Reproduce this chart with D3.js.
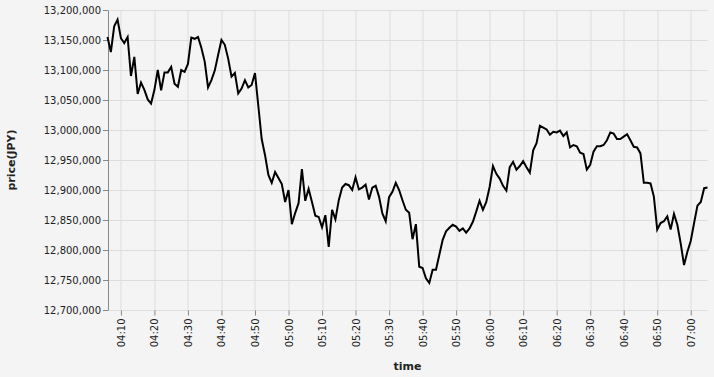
<!DOCTYPE html>
<html>
<head>
<meta charset="utf-8">
<script src="https://cdn.jsdelivr.net/npm/d3@7"></script>
<style>
  body { margin: 0; background: #f4f4f4; }
  svg { display: block; font-family: "DejaVu Sans", sans-serif; }
</style>
</head>
<body>
<svg id="chart"></svg>
<script>
// one price per minute, starting at 04:06
var startTime = "04:06";
var prices = [
  13155, 13130, 13173, 13184, 13153, 13145, 13155, 13090, 13122, 13060,
  13079, 13067, 13051, 13044, 13067, 13100, 13066, 13096, 13096, 13105,
  13077, 13072, 13100, 13097, 13110, 13154, 13152, 13155, 13137, 13114,
  13071, 13083, 13099, 13125, 13150, 13142, 13119, 13089, 13095, 13061,
  13069, 13083, 13071, 13075, 13095, 13040, 12985, 12958, 12925, 12912,
  12930, 12920, 12910, 12880, 12900, 12843, 12862, 12878, 12935, 12882,
  12902, 12880, 12857, 12855, 12838, 12858, 12805, 12867, 12851, 12883,
  12904, 12910, 12908, 12900, 12921, 12901, 12904, 12909, 12884, 12904,
  12907, 12889, 12861, 12848, 12888, 12897, 12912, 12900, 12883, 12867,
  12862, 12818, 12843, 12772, 12770, 12753, 12745, 12767, 12767, 12792,
  12817, 12831, 12837, 12842, 12839, 12832, 12836, 12829, 12836, 12847,
  12864, 12882, 12867, 12880, 12905, 12940, 12927, 12919, 12907, 12899,
  12938, 12947, 12934, 12940, 12948, 12938, 12929, 12966, 12978, 13007,
  13004, 13001, 12992, 12997, 12996, 12999, 12990, 12996, 12971, 12975,
  12973, 12962, 12960, 12934, 12942, 12964, 12973, 12973, 12975, 12983,
  12996, 12994, 12985, 12985, 12989, 12993, 12983, 12972, 12971, 12961,
  12912, 12912, 12911, 12889, 12834, 12845, 12848, 12856, 12834, 12860,
  12842, 12811, 12775, 12797, 12815, 12845, 12874, 12880, 12903, 12904
];
var yDomain = [12700000, 13200000];

var parseTime = d3.timeParse("%H:%M");
var t0 = parseTime(startTime);
var data = prices.map(function (p, i) {
    return { time: d3.timeMinute.offset(t0, i), price: p * 1000 };
});

var width = 714, height = 377;
var margin = { top: 10, right: 6.5, bottom: 67, left: 107.5 };
var w = width - margin.left - margin.right;
var h = height - margin.top - margin.bottom;

var svg = d3.select("#chart").attr("width", width).attr("height", height);
svg.append("rect").attr("width", width).attr("height", height).attr("fill", "#f4f4f4");

var g = svg.append("g").attr("transform", "translate(" + margin.left + "," + margin.top + ")");

var x = d3.scaleTime()
    .domain(d3.extent(data, function (d) { return d.time; }))
    .range([0, w]);
var y = d3.scaleLinear().domain(yDomain).range([h, 0]);

var xTicks = x.ticks(d3.timeMinute.every(10));
var yTicks = y.ticks(10);

// grid
g.append("g").selectAll("line").data(yTicks).enter().append("line")
    .attr("x1", 0).attr("x2", w)
    .attr("y1", function (d) { return Math.round(y(d)) + 0.5; })
    .attr("y2", function (d) { return Math.round(y(d)) + 0.5; })
    .attr("stroke", "#dddddd");
g.append("g").selectAll("line").data(xTicks).enter().append("line")
    .attr("y1", 0).attr("y2", h)
    .attr("x1", function (d) { return Math.round(x(d)) + 0.5; })
    .attr("x2", function (d) { return Math.round(x(d)) + 0.5; })
    .attr("stroke", "#dddddd");

// x axis
var xAxis = g.append("g")
    .attr("transform", "translate(0," + (h + 0.5) + ")")
    .call(d3.axisBottom(x).tickValues(xTicks).tickFormat(d3.timeFormat("%H:%M")).tickSize(5).tickPadding(3));
xAxis.select(".domain").remove();
xAxis.selectAll(".tick line").attr("stroke", "#888");
xAxis.selectAll("text")
    .attr("transform", "rotate(-90)")
    .attr("text-anchor", "end")
    .attr("x", -8).attr("y", 0).attr("dy", "0.35em")
    .attr("font-size", 10).attr("fill", "#222")
    .attr("font-family", "DejaVu Sans, sans-serif");

// y axis
var yAxis = g.append("g")
    .attr("transform", "translate(0.5,0)")
    .call(d3.axisLeft(y).tickValues(yTicks).tickFormat(d3.format(",")).tickSize(5).tickSizeOuter(0).tickPadding(2));
yAxis.select(".domain").attr("stroke", "#888");
yAxis.selectAll(".tick line").attr("stroke", "#888");
yAxis.selectAll("text")
    .attr("font-size", 10).attr("fill", "#222")
    .attr("font-family", "DejaVu Sans, sans-serif");

// line
var line = d3.line()
    .x(function (d) { return x(d.time); })
    .y(function (d) { return y(d.price); });
g.append("path").datum(data)
    .attr("d", line)
    .attr("fill", "none")
    .attr("stroke", "#000")
    .attr("stroke-width", 2)
    .attr("stroke-linejoin", "miter");

// titles
svg.append("text")
    .attr("x", margin.left + w / 2).attr("y", 370)
    .attr("text-anchor", "middle")
    .attr("font-size", 11).attr("font-weight", "bold").attr("fill", "#222")
    .text("time");
svg.append("text")
    .attr("transform", "translate(15," + (margin.top + h / 2) + ") rotate(-90)")
    .attr("text-anchor", "middle")
    .attr("font-size", 11).attr("font-weight", "bold").attr("fill", "#222")
    .text("price(JPY)");
</script>
</body>
</html>
